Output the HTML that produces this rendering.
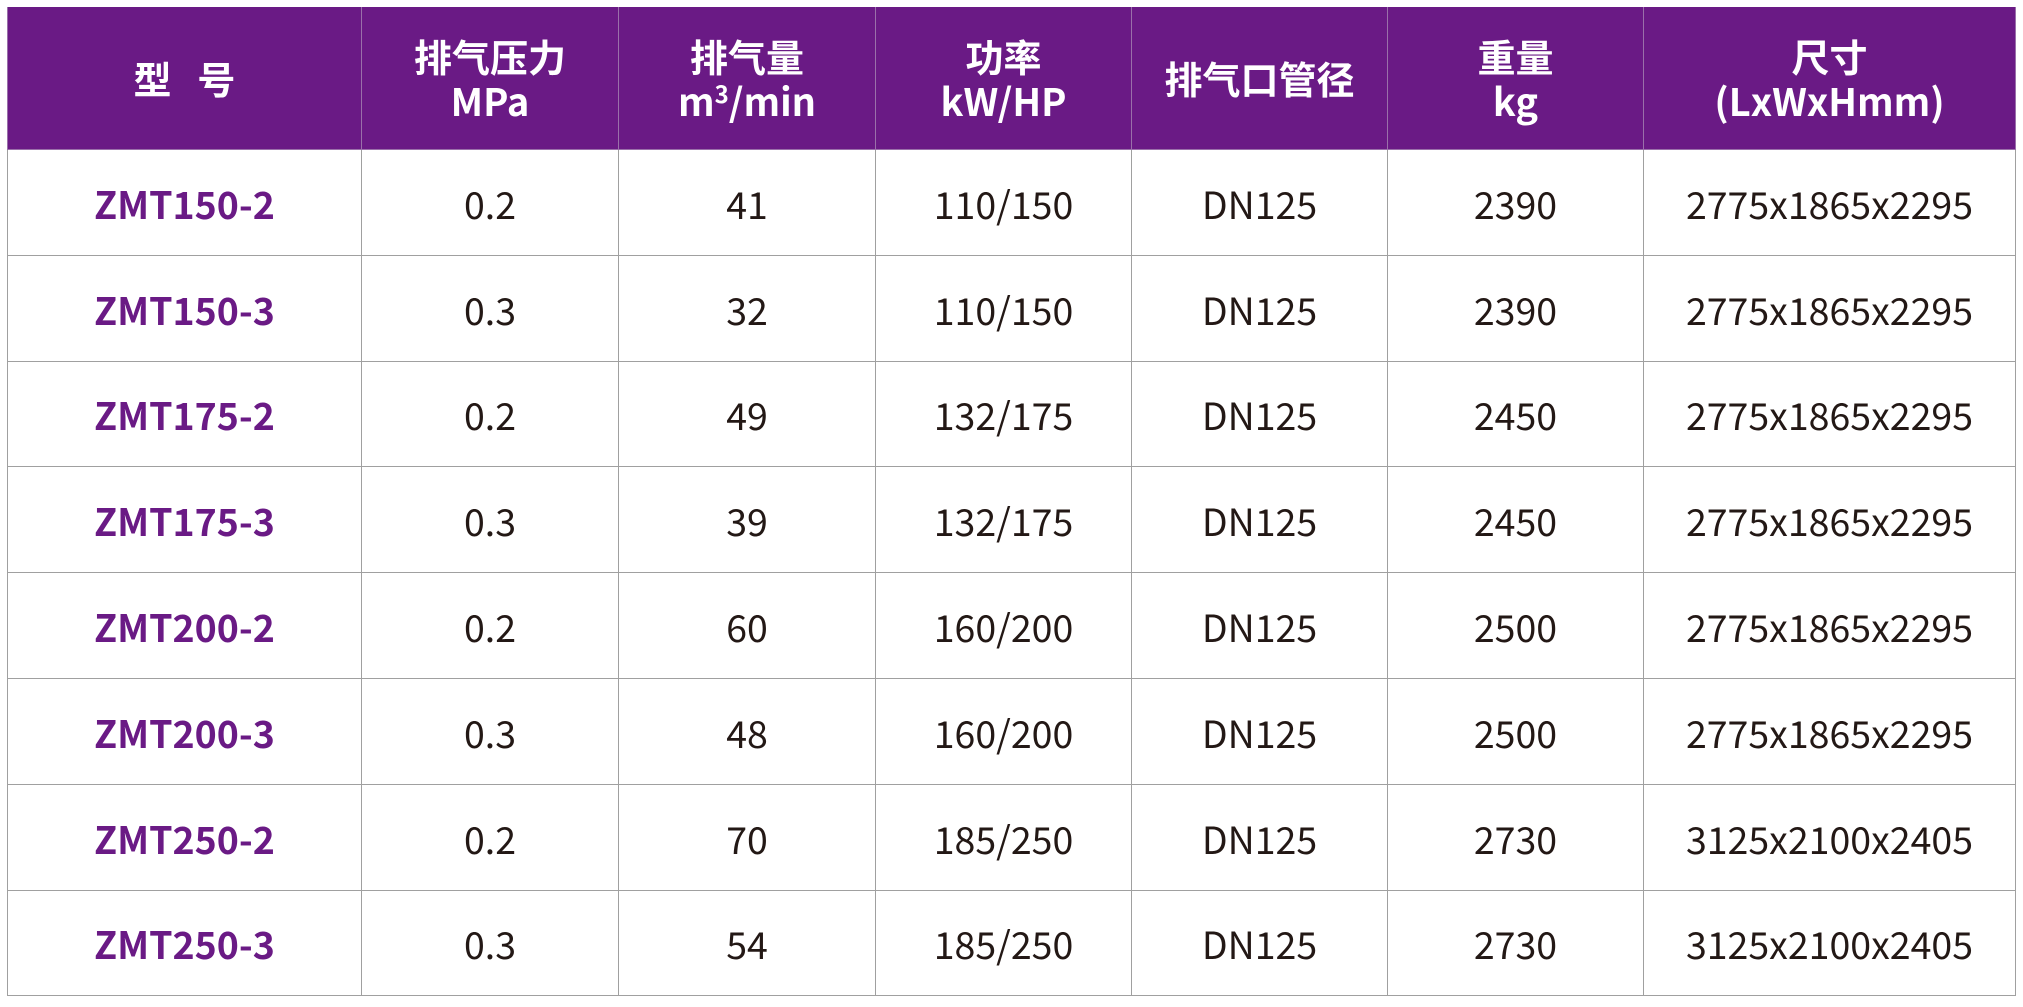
<!DOCTYPE html>
<html><head><meta charset="utf-8">
<style>
html,body{margin:0;padding:0;background:#fff;}
body{width:2023px;height:1007px;position:relative;overflow:hidden;font-family:"Liberation Sans","Noto Sans CJK SC",sans-serif;}
table{position:absolute;left:7px;top:7px;width:2008px;border-collapse:collapse;table-layout:fixed;}
td,th{border:1.5px solid #a0a0a0;text-align:center;padding:0;}
th{background:#6a1a85;color:#fff;font-weight:bold;font-size:38px;line-height:44px;height:142px;border-color:#9a70aa;border-top:none;font-family:"Noto Sans CJK SC",sans-serif;}
td{height:104.8px;font-size:37.5px;color:#231815;font-family:"Noto Sans CJK SC",sans-serif;}
td.m{color:#6a1a85;font-weight:bold;}
sup{font-size:24px;vertical-align:top;line-height:30px;}
</style></head><body>
<table>
<colgroup><col style="width:354px"><col style="width:257px"><col style="width:257px"><col style="width:256px"><col style="width:256px"><col style="width:256px"><col style="width:372px"></colgroup>
<tr><th>型&nbsp;&nbsp;&nbsp;号</th><th>排气压力<br>MPa</th><th>排气量<br>m<sup>3</sup>/min</th><th>功率<br>kW/HP</th><th>排气口管径</th><th>重量<br>kg</th><th>尺寸<br>(LxWxHmm)</th></tr>
<tr><td class="m">ZMT150-2</td><td>0.2</td><td>41</td><td>110/150</td><td>DN125</td><td>2390</td><td>2775x1865x2295</td></tr>
<tr><td class="m">ZMT150-3</td><td>0.3</td><td>32</td><td>110/150</td><td>DN125</td><td>2390</td><td>2775x1865x2295</td></tr>
<tr><td class="m">ZMT175-2</td><td>0.2</td><td>49</td><td>132/175</td><td>DN125</td><td>2450</td><td>2775x1865x2295</td></tr>
<tr><td class="m">ZMT175-3</td><td>0.3</td><td>39</td><td>132/175</td><td>DN125</td><td>2450</td><td>2775x1865x2295</td></tr>
<tr><td class="m">ZMT200-2</td><td>0.2</td><td>60</td><td>160/200</td><td>DN125</td><td>2500</td><td>2775x1865x2295</td></tr>
<tr><td class="m">ZMT200-3</td><td>0.3</td><td>48</td><td>160/200</td><td>DN125</td><td>2500</td><td>2775x1865x2295</td></tr>
<tr><td class="m">ZMT250-2</td><td>0.2</td><td>70</td><td>185/250</td><td>DN125</td><td>2730</td><td>3125x2100x2405</td></tr>
<tr><td class="m">ZMT250-3</td><td>0.3</td><td>54</td><td>185/250</td><td>DN125</td><td>2730</td><td>3125x2100x2405</td></tr>
</table>
</body></html>
